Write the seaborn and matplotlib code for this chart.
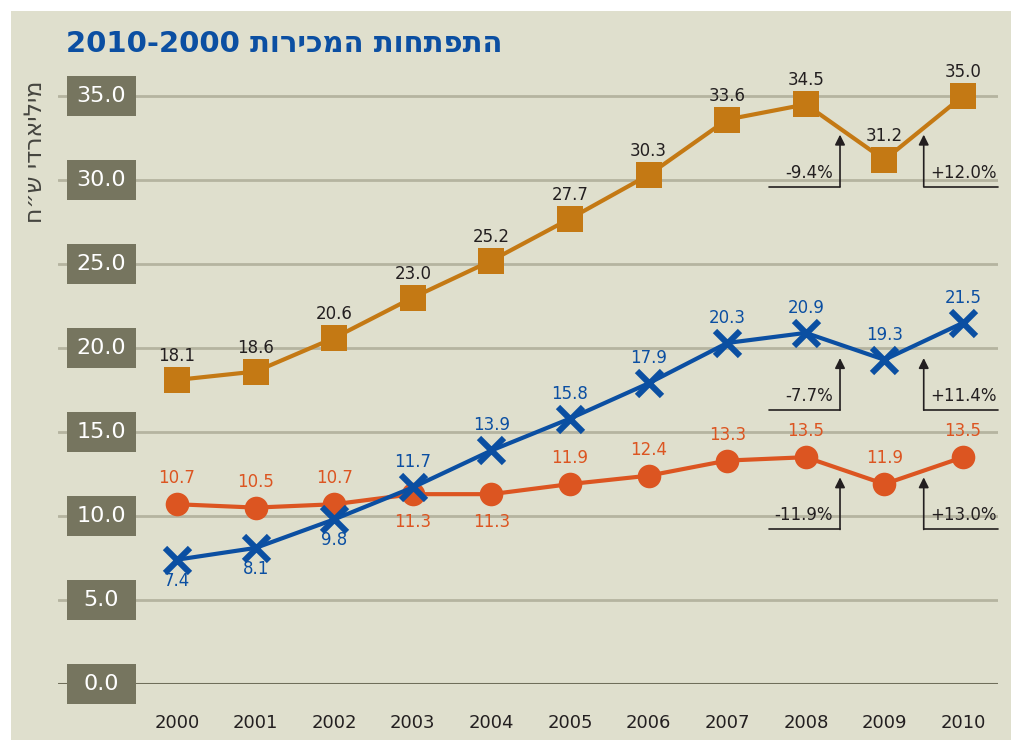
import matplotlib
matplotlib.use('Agg')
import matplotlib.pyplot as plt
import matplotlib.transforms as mtransforms
from matplotlib.patches import Rectangle
import seaborn as sns

# Data (billions of shekels)
years = [2000, 2001, 2002, 2003, 2004, 2005, 2006, 2007, 2008, 2009, 2010]
total_sales = [18.1, 18.6, 20.6, 23.0, 25.2, 27.7, 30.3, 33.6, 34.5, 31.2, 35.0]
blue_sales = [7.4, 8.1, 9.8, 11.7, 13.9, 15.8, 17.9, 20.3, 20.9, 19.3, 21.5]
red_sales = [10.7, 10.5, 10.7, 11.3, 11.3, 11.9, 12.4, 13.3, 13.5, 11.9, 13.5]
y_ticks = [0, 5, 10, 15, 20, 25, 30, 35]

# label below the point (True) or above (False)
blue_below = [True, True, True, False, False, False, False, False, False, False, False]
red_below = [False, False, False, True, True, False, False, False, False, False, False]

# yearly change notes 2008->2009 and 2009->2010, with the level of the L line
change_total = ['-9.4%', '+12.0%']
change_blue = ['-7.7%', '+11.4%']
change_red = ['-11.9%', '+13.0%']
note_levels = [29.6, 16.3, 9.2]

# matplotlib has no right-to-left layout, so Hebrew goes in visual order
title = '2010-2000 ' + 'התפתחות המכירות'[::-1]
ylabel = 'מיליארדי ש״ח'[::-1]

bg = '#dfdfcd'
box_col = '#76755f'
grid_col = '#b5b4a0'
ink = '#231f20'
c_total = '#c47914'
c_blue = '#0b4fa2'
c_red = '#dc5521'

sns.set_theme(style='white')
plt.rcParams['font.family'] = ['DejaVu Sans']

fig = plt.figure(figsize=(10.12, 7.4), dpi=100, facecolor='white')
fig.patches.append(Rectangle((11 / 1012, 0), 1, (740 - 11) / 740, transform=fig.transFigure,
                             facecolor=bg, edgecolor='none', zorder=-10))
ax = fig.add_axes([58 / 1012, 56 / 740, 940 / 1012, 613.2 / 740])
ax.set_facecolor('none')
ax.set_xlim(1998.486, 2010.445)
ax.set_ylim(0, 36.5)
for s in ax.spines.values():
    s.set_visible(False)

# gridlines
for v in y_ticks[1:]:
    ax.axhline(v, color=grid_col, lw=2.0, zorder=1)
ax.axhline(0, color='#6f6e5a', lw=2.2, zorder=1)

ax.set_yticks([])
ax.set_xticks(years)
ax.set_xticklabels([str(y) for y in years])
ax.tick_params(axis='x', direction='out', length=14.4, width=4.6, color=ink,
               labelsize=13, labelcolor=ink, pad=7)

# y tick label boxes
blend = mtransforms.blended_transform_factory(ax.transAxes, ax.transData)
for v in y_ticks:
    ax.add_patch(Rectangle((9 / 940, v - 1.21), 69 / 940, 2.42, transform=blend,
                           facecolor=box_col, edgecolor='none', clip_on=False, zorder=3))
    ax.text(43.5 / 940, v, f'{v:.1f}', transform=blend, ha='center', va='center',
            color='white', fontsize=16, zorder=4, clip_on=False)

# series
sns.lineplot(x=years, y=total_sales, ax=ax, color=c_total, lw=3.0, marker='s',
             markersize=19, markeredgewidth=0, zorder=5)
sns.lineplot(x=years, y=red_sales, ax=ax, color=c_red, lw=3.0, marker='o',
             markersize=17, markeredgewidth=0, zorder=5)
sns.lineplot(x=years, y=blue_sales, ax=ax, color=c_blue, lw=3.0, marker='x',
             markersize=18, markeredgewidth=4.4, markeredgecolor=c_blue, zorder=6)

# value labels
for x, v in zip(years, total_sales):
    ax.annotate(f'{v:.1f}', (x, v), xytext=(0, 24), textcoords='offset pixels',
                ha='center', va='center', fontsize=12, color=ink, zorder=7)
for x, v, b in zip(years, blue_sales, blue_below):
    ax.annotate(f'{v:.1f}', (x, v), xytext=(0, -21 if b else 25), textcoords='offset pixels',
                ha='center', va='center', fontsize=12, color=c_blue, zorder=7)
for x, v, b in zip(years, red_sales, red_below):
    ax.annotate(f'{v:.1f}', (x, v), xytext=(0, -28 if b else 26), textcoords='offset pixels',
                ha='center', va='center', fontsize=12, color=c_red, zorder=7)

# change notes with arrows
x_left_arrow, x_right_arrow = 2008.435, 2009.5
for level, notes in zip(note_levels, [change_total, change_blue, change_red]):
    tip = level + 3.1
    # left note: horizontal line then arrow up
    ax.plot([2007.53, x_left_arrow], [level, level], color=ink, lw=1.2, zorder=4)
    ax.annotate('', xy=(x_left_arrow, tip), xytext=(x_left_arrow, level),
                arrowprops=dict(arrowstyle='-|>', color=ink, lw=1.2,
                                shrinkA=0, shrinkB=0, mutation_scale=15), zorder=4)
    ax.text(x_left_arrow - 0.09, level + 0.3, notes[0], ha='right', va='bottom',
            fontsize=12, color=ink, zorder=4)
    # right note: arrow up then horizontal line to the right
    ax.plot([x_right_arrow, 2010.445], [level, level], color=ink, lw=1.2, zorder=4,
            clip_on=False)
    ax.annotate('', xy=(x_right_arrow, tip), xytext=(x_right_arrow, level),
                arrowprops=dict(arrowstyle='-|>', color=ink, lw=1.2,
                                shrinkA=0, shrinkB=0, mutation_scale=15), zorder=4)
    ax.text(2010.43, level + 0.3, notes[1], ha='right', va='bottom',
            fontsize=12, color=ink, zorder=4)

fig.text(66 / 1012, 1 - 44 / 740, title, ha='left', va='center', fontsize=21,
         fontweight='bold', color=c_blue)
fig.text(35 / 1012, 1 - 152 / 740, ylabel, ha='center', va='center', rotation=90,
         fontsize=17, color='#45453f')

fig.savefig('out.png', dpi=100, facecolor='white')
